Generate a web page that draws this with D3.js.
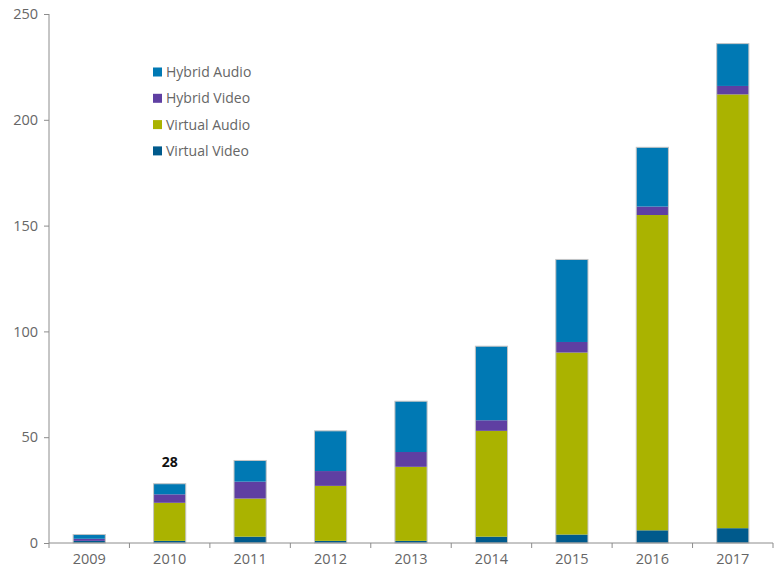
<!DOCTYPE html>
<html>
<head>
<meta charset="utf-8">
<script src="https://cdn.jsdelivr.net/npm/d3@7"></script>
<style>
  body { margin: 0; background: #fff; }
  text { font-family: "Open Sans", "Noto Sans", sans-serif; }
</style>
</head>
<body>
<svg id="canvas"></svg>
<script>
const years = ['2009', '2010', '2011', '2012', '2013', '2014', '2015', '2016', '2017']
const virtualVideo = [1, 1, 3, 1, 1, 3, 4, 6, 7]
const virtualAudio = [0, 18, 18, 26, 35, 50, 86, 149, 205]
const hybridVideo = [1, 4, 8, 7, 7, 5, 5, 4, 4]
const hybridAudio = [2, 5, 10, 19, 24, 35, 39, 28, 20]
const seriesNames = ['Virtual Video', 'Virtual Audio', 'Hybrid Video', 'Hybrid Audio']
const colors = ['#005a8c', '#aab300', '#5f3fa2', '#0079b4']
const yTicks = [0, 50, 100, 150, 200, 250]
const callout = { year: '2010', label: '28' }

const w = 778
const h = 569
const margin = { left: 49, right: 5, top: 14, bottom: 26 }

const canvas = d3.select('#canvas').attr('width', w).attr('height', h)

const rows = years.map((y, i) => ({
  year: y,
  'Virtual Video': virtualVideo[i],
  'Virtual Audio': virtualAudio[i],
  'Hybrid Video': hybridVideo[i],
  'Hybrid Audio': hybridAudio[i]
}))
const stacked = d3.stack().keys(seriesNames)(rows)

const xScale = d3.scaleBand()
                 .domain(years)
                 .range([margin.left, w - margin.right])
                 .paddingInner(0.6)
                 .paddingOuter(0.3)
const yScale = d3.scaleLinear()
                 .domain([0, 250])
                 .range([h - margin.bottom, margin.top])

// bars
canvas.selectAll('g.series')
      .data(stacked)
      .enter()
      .append('g')
      .attr('class', 'series')
      .attr('fill', (_, i) => colors[i])
      .selectAll('rect')
      .data(d => d)
      .enter()
      .append('rect')
      .attr('x', d => xScale(d.data.year))
      .attr('width', xScale.bandwidth())
      .attr('y', d => yScale(d[1]))
      .attr('height', d => yScale(d[0]) - yScale(d[1]))

// light outline round each stack
canvas.selectAll('rect.outline')
      .data(rows)
      .enter()
      .append('rect')
      .attr('class', 'outline')
      .attr('x', d => xScale(d.year))
      .attr('width', xScale.bandwidth())
      .attr('y', d => yScale(d3.sum(seriesNames, k => d[k])))
      .attr('height', d => yScale(0) - yScale(d3.sum(seriesNames, k => d[k])))
      .attr('fill', 'none')
      .attr('stroke', '#c4c4c4')
      .attr('stroke-width', 1)

// axes
const yAxis = d3.axisLeft(yScale).tickValues(yTicks).tickSize(5).tickPadding(6)
const yG = canvas.append('g')
                 .attr('transform', `translate(${margin.left},0)`)
                 .call(yAxis)

const xAxis = d3.axisBottom(xScale).tickSize(0).tickPadding(11)
const xG = canvas.append('g')
                 .attr('transform', `translate(0,${yScale(0)})`)
                 .call(xAxis)

// ticks between categories
const step = xScale.step()
xG.selectAll('line.sep')
  .data(d3.range(years.length + 1))
  .enter()
  .append('line')
  .attr('class', 'sep')
  .attr('x1', i => margin.left + i * step)
  .attr('x2', i => margin.left + i * step)
  .attr('y1', 0)
  .attr('y2', 5)
  .attr('stroke', '#8c8c8c')

;[yG, xG].forEach(g => {
  g.select('.domain').attr('stroke', '#8c8c8c')
  g.selectAll('.tick line').attr('stroke', '#8c8c8c')
  g.selectAll('text')
   .attr('fill', '#666')
   .style('font-size', '14.5px')
   .style('font-family', '"Open Sans", "Noto Sans", sans-serif')
})
yG.select('.domain').attr('d', `M0,${yScale(0)}V${yScale(250)}`)
xG.select('.domain').attr('d', `M${margin.left},0H${w - margin.right}`)

// callout label
canvas.append('text')
      .attr('x', xScale(callout.year) + xScale.bandwidth() / 2)
      .attr('y', 467)
      .attr('text-anchor', 'middle')
      .attr('font-weight', 'bold')
      .attr('font-size', '14px')
      .attr('fill', '#111')
      .text(callout.label)

// legend
const legendOrder = ['Hybrid Audio', 'Hybrid Video', 'Virtual Audio', 'Virtual Video']
const legend = canvas.append('g').attr('transform', 'translate(153,72)')
const item = legend.selectAll('g')
                   .data(legendOrder)
                   .enter()
                   .append('g')
                   .attr('transform', (_, i) => `translate(0,${i * 26.3})`)
item.append('rect')
    .attr('x', 0)
    .attr('y', -4.5)
    .attr('width', 9)
    .attr('height', 9)
    .attr('fill', d => colors[seriesNames.indexOf(d)])
item.append('text')
    .attr('x', 13)
    .attr('y', 5)
    .attr('font-size', '14px')
    .attr('fill', '#666')
    .text(d => d)
</script>
</body>
</html>
